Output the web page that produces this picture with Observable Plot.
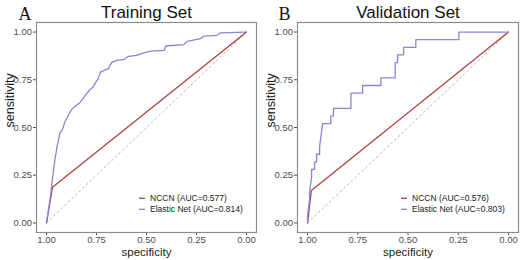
<!DOCTYPE html>
<html><head><meta charset="utf-8">
<script src="https://cdn.jsdelivr.net/npm/d3@7"></script>
<script src="https://cdn.jsdelivr.net/npm/@observablehq/plot@0.6"></script>
<style>
html,body{margin:0;padding:0;background:#fff;}
#chart{display:flex;width:520px;height:260px;overflow:hidden;}
#chart svg{flex:none;}
</style></head><body><div id="chart"></div>
<script>
// ---- data ----
const panelLetters = ["A", "B"];
const panelTitles = ["Training Set", "Validation Set"];
const seriesNames = ["NCCN", "Elastic Net"];
const aucTrain = ["0.577", "0.814"];
const aucValid = ["0.576", "0.803"];
const tickValues = [0, 0.25, 0.5, 0.75, 1];
const axisTitles = ["specificity", "sensitivity"];
const diagSpec = [1, 0];
const diagSens = [0, 1];

const trainNccnSpec = [1, 0.97, 0];
const trainNccnSens = [0, 0.187, 1];
const trainEnetSpec = [1.000, 0.995, 0.990, 0.985, 0.980, 0.975, 0.967, 0.958, 0.947, 0.933, 0.920, 0.908, 0.900, 0.883, 0.870, 0.858, 0.833, 0.815, 0.800, 0.785, 0.767, 0.755, 0.742, 0.730, 0.710, 0.690, 0.675, 0.650, 0.610, 0.590, 0.550, 0.517, 0.480, 0.410, 0.405, 0.313, 0.297, 0.230, 0.213, 0.147, 0.130, 0.000];
const trainEnetSens = [0.000, 0.035, 0.068, 0.105, 0.138, 0.190, 0.260, 0.330, 0.400, 0.470, 0.490, 0.530, 0.546, 0.580, 0.600, 0.610, 0.630, 0.655, 0.677, 0.695, 0.712, 0.735, 0.755, 0.790, 0.800, 0.808, 0.840, 0.852, 0.857, 0.873, 0.878, 0.890, 0.900, 0.904, 0.927, 0.934, 0.951, 0.965, 0.979, 0.983, 0.996, 1.000];

const validNccnSpec = [1, 0.981, 0];
const validNccnSens = [0, 0.17, 1];
const validEnetSpec = [1.000, 1.000, 0.995, 0.990, 0.990, 0.985, 0.980, 0.980, 0.965, 0.965, 0.955, 0.955, 0.940, 0.940, 0.935, 0.930, 0.925, 0.884, 0.884, 0.871, 0.871, 0.784, 0.784, 0.726, 0.726, 0.635, 0.635, 0.564, 0.564, 0.552, 0.552, 0.522, 0.522, 0.461, 0.461, 0.247, 0.247, 0.000];
const validEnetSens = [0.00, 0.04, 0.08, 0.12, 0.16, 0.20, 0.24, 0.28, 0.28, 0.32, 0.32, 0.36, 0.36, 0.40, 0.44, 0.48, 0.52, 0.52, 0.56, 0.56, 0.60, 0.60, 0.68, 0.68, 0.72, 0.72, 0.76, 0.76, 0.84, 0.84, 0.88, 0.88, 0.92, 0.92, 0.96, 0.96, 1.00, 1.00];

const colors = ["#b3403d", "#8686d8"];

const zip = (xs, ys) => xs.map((x, i) => ({spec: x, sens: ys[i]}));

function panel(letter, title, nccn, enet, aucs, mLeft, mRight) {
  const W = 260, H = 260, mTop = 22, mBottom = 28;
  const fmt = d3.format(".2f");
  const plot = Plot.plot({
    width: W, height: H,
    marginLeft: mLeft, marginRight: mRight, marginTop: mTop, marginBottom: mBottom,
    style: {fontFamily: "'Liberation Sans', Arial, sans-serif", fontSize: "9.5px", color: "#4d4d4d", background: "white", overflow: "visible"},
    x: {domain: [1.05, -0.05], ticks: tickValues, tickFormat: fmt, label: null, tickSize: 3, tickPadding: 0.6},
    y: {domain: [-0.05, 1.05], ticks: tickValues, tickFormat: fmt, label: null, tickSize: 3, tickPadding: 1.5},
    marks: [
      Plot.line(zip(diagSpec, diagSens), {x: "spec", y: "sens", stroke: "#b4b4b4", strokeWidth: 1, strokeDasharray: "2,3"}),
      Plot.line(nccn, {x: "spec", y: "sens", stroke: colors[0], strokeWidth: 1.3}),
      Plot.line(enet, {x: "spec", y: "sens", stroke: colors[1], strokeWidth: 1.3}),
      Plot.frame({stroke: "#8c8c8c", strokeWidth: 1.2}),
      Plot.text([title], {frameAnchor: "top", lineAnchor: "bottom", dy: -5, fontSize: 17, fill: "#111", text: d => d}),
      Plot.text([letter], {frameAnchor: "top-left", textAnchor: "start", lineAnchor: "bottom", dx: -(mLeft - 18), dy: -3, fontSize: 18, fill: "#111", fontFamily: "'Liberation Serif', 'Times New Roman', serif", text: d => d}),
      Plot.text([axisTitles[0]], {frameAnchor: "bottom", lineAnchor: "bottom", dy: 23.5, fontSize: 11.5, fill: "#1a1a1a", text: d => d}),
      Plot.text([axisTitles[1]], {frameAnchor: "left", lineAnchor: "bottom", rotate: -90, dx: -23, fontSize: 12.5, fill: "#1a1a1a", text: d => d})
    ]
  });
  // legend inside panel, bottom-right
  const svg = d3.select(plot);
  const right = W - mRight, bottom = H - mBottom;
  const x1 = right - 117;
  const g = svg.append("g").attr("text-anchor", "start");
  seriesNames.forEach((name, i) => {
    const yy = bottom - 33.7 + i * 11;
    g.append("line").attr("x1", x1).attr("x2", x1 + 6).attr("y1", yy).attr("y2", yy)
      .attr("stroke", colors[i]).attr("stroke-width", 1.3);
    g.append("text").attr("x", x1 + 11).attr("y", yy).attr("dy", "0.35em")
      .attr("text-anchor", "start")
      .attr("font-size", 8.5).attr("fill", "#222")
      .text(`${name} (AUC=${aucs[i]})`);
  });
  return plot;
}

const root = document.getElementById("chart");
root.appendChild(panel(panelLetters[0], panelTitles[0], zip(trainNccnSpec, trainNccnSens), zip(trainEnetSpec, trainEnetSens), aucTrain, 36, 4));
root.appendChild(panel(panelLetters[1], panelTitles[1], zip(validNccnSpec, validNccnSens), zip(validEnetSpec, validEnetSens), aucValid, 37, 2));
</script>
</body></html>
